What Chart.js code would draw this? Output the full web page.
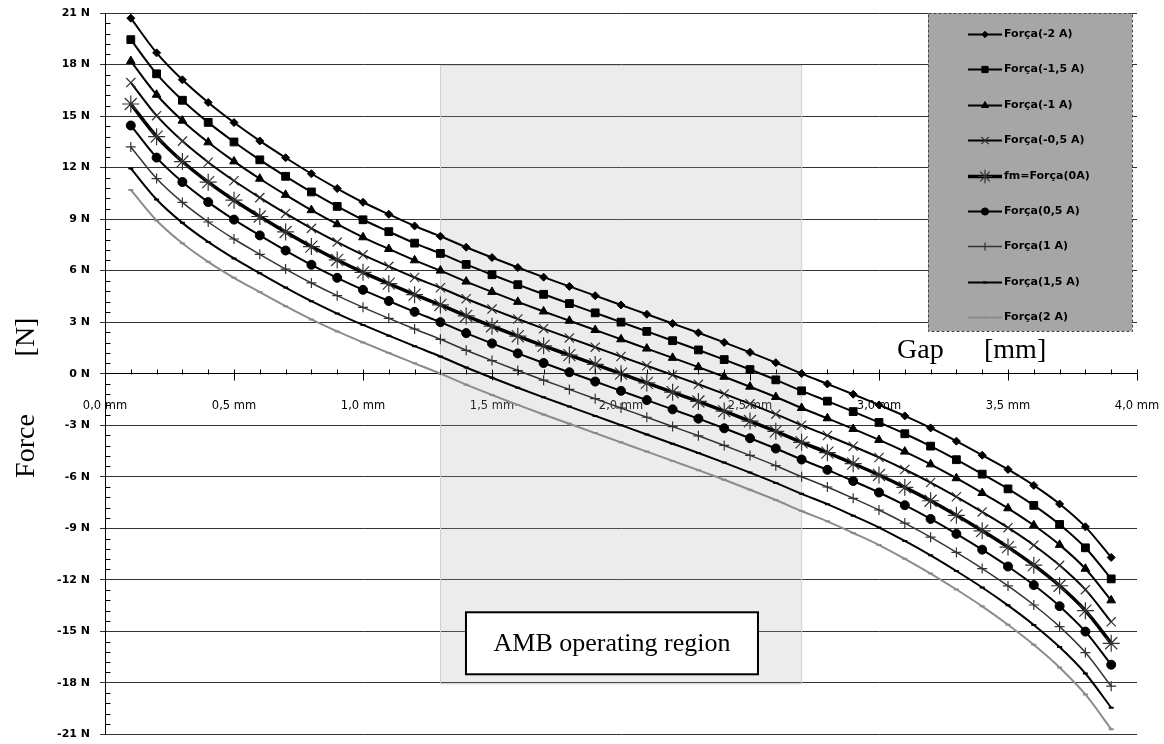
<!DOCTYPE html>
<html>
<head>
<meta charset="utf-8">
<title>Force vs gap</title>
<script src="https://cdn.jsdelivr.net/npm/chart.js@4.4.1/dist/chart.umd.min.js"></script>
<style>
  html, body { margin: 0; padding: 0; background: #fff; }
  #wrap { width: 1164px; height: 744px; }
</style>
</head>
<body>
<div id="wrap"><canvas id="forceChart" width="1164" height="744"></canvas></div>
<script>
// gap positions of the samples (mm)
const gapMm = [0.1, 0.2, 0.3, 0.4, 0.5, 0.6, 0.7, 0.8, 0.9, 1.0,
               1.1, 1.2, 1.3, 1.4, 1.5, 1.6, 1.7, 1.8, 1.9, 2.0,
               2.1, 2.2, 2.3, 2.4, 2.5, 2.6, 2.7, 2.8, 2.9, 3.0,
               3.1, 3.2, 3.3, 3.4, 3.5, 3.6, 3.7, 3.8, 3.9];

// force (N) for each control current
const forceM2A = [20.7, 18.68, 17.11, 15.79, 14.62, 13.55, 12.57, 11.64, 10.78, 9.98,
                  9.28, 8.6, 8.0, 7.36, 6.76, 6.18, 5.62, 5.08, 4.54, 4.0,
                  3.46, 2.92, 2.38, 1.82, 1.24, 0.64, 0.0, -0.6, -1.2, -1.82,
                  -2.46, -3.16, -3.93, -4.75, -5.58, -6.51, -7.59, -8.92, -10.7];
const forceM15A = [19.45, 17.46, 15.92, 14.63, 13.49, 12.45, 11.49, 10.58, 9.74, 8.96,
                   8.27, 7.6, 7.0, 6.36, 5.76, 5.18, 4.62, 4.08, 3.54, 3.0,
                   2.46, 1.92, 1.38, 0.82, 0.24, -0.36, -1.0, -1.6, -2.21, -2.84,
                   -3.5, -4.22, -5.01, -5.85, -6.71, -7.67, -8.78, -10.14, -11.95];
const forceM1A = [18.2, 16.24, 14.73, 13.47, 12.36, 11.35, 10.41, 9.52, 8.7, 7.94,
                  7.26, 6.6, 6.0, 5.36, 4.76, 4.18, 3.62, 3.08, 2.54, 2.0,
                  1.46, 0.92, 0.38, -0.18, -0.76, -1.36, -2.0, -2.6, -3.22, -3.86,
                  -4.54, -5.28, -6.09, -6.95, -7.84, -8.83, -9.97, -11.36, -13.2];
const forceM05A = [16.95, 15.02, 13.54, 12.31, 11.23, 10.25, 9.33, 8.46, 7.66, 6.92,
                   6.25, 5.6, 5.0, 4.36, 3.76, 3.18, 2.62, 2.08, 1.54, 1.0,
                   0.46, -0.08, -0.62, -1.18, -1.76, -2.36, -3.0, -3.6, -4.23, -4.88,
                   -5.58, -6.34, -7.17, -8.05, -8.97, -9.99, -11.16, -12.58, -14.45];
const force0A = [15.7, 13.8, 12.35, 11.15, 10.1, 9.15, 8.25, 7.4, 6.62, 5.9,
                 5.24, 4.6, 4.0, 3.36, 2.76, 2.18, 1.62, 1.08, 0.54, 0.0,
                 -0.54, -1.08, -1.62, -2.18, -2.76, -3.36, -4.0, -4.6, -5.24, -5.9,
                 -6.62, -7.4, -8.25, -9.15, -10.1, -11.15, -12.35, -13.8, -15.7];
const forceP05A = [14.45, 12.58, 11.16, 9.99, 8.97, 8.05, 7.17, 6.34, 5.58, 4.88,
                   4.23, 3.6, 3.0, 2.36, 1.76, 1.18, 0.62, 0.08, -0.46, -1.0,
                   -1.54, -2.08, -2.62, -3.18, -3.76, -4.36, -5.0, -5.6, -6.25, -6.92,
                   -7.66, -8.46, -9.33, -10.25, -11.23, -12.31, -13.54, -15.02, -16.95];
const forceP1A = [13.2, 11.36, 9.97, 8.83, 7.84, 6.95, 6.09, 5.28, 4.54, 3.86,
                  3.22, 2.6, 2.0, 1.36, 0.76, 0.18, -0.38, -0.92, -1.46, -2.0,
                  -2.54, -3.08, -3.62, -4.18, -4.76, -5.36, -6.0, -6.6, -7.26, -7.94,
                  -8.7, -9.52, -10.41, -11.35, -12.36, -13.47, -14.73, -16.24, -18.2];
const forceP15A = [11.95, 10.14, 8.78, 7.67, 6.71, 5.85, 5.01, 4.22, 3.5, 2.84,
                   2.21, 1.6, 1.0, 0.36, -0.24, -0.82, -1.38, -1.92, -2.46, -3.0,
                   -3.54, -4.08, -4.62, -5.18, -5.76, -6.36, -7.0, -7.6, -8.27, -8.96,
                   -9.74, -10.58, -11.49, -12.45, -13.49, -14.63, -15.92, -17.46, -19.45];
const forceP2A = [10.7, 8.92, 7.59, 6.51, 5.58, 4.75, 3.93, 3.16, 2.46, 1.82,
                  1.2, 0.6, 0.0, -0.64, -1.24, -1.82, -2.38, -2.92, -3.46, -4.0,
                  -4.54, -5.08, -5.62, -6.18, -6.76, -7.36, -8.0, -8.6, -9.28, -9.98,
                  -10.78, -11.64, -12.57, -13.55, -14.62, -15.79, -17.11, -18.68, -20.7];

const seriesLabels = ['Força(-2 A)', 'Força(-1,5 A)', 'Força(-1 A)', 'Força(-0,5 A)', 'fm=Força(0A)',
                      'Força(0,5 A)', 'Força(1 A)', 'Força(1,5 A)', 'Força(2 A)'];

// AMB operating region (gap in mm, force in N)
const operatingGap = [1.3, 2.7];
const operatingForce = [-18, 18];

function toPoints(ys) {
    return gapMm.map((g, i) => ({ x: g, y: ys[i] }));
}

// one style per curve, same order as seriesLabels
const styles = [
    { color: '#000', width: 2,   point: 'rectRot',  r: 4,   pColor: '#000', pWidth: 1 },
    { color: '#000', width: 2,   point: 'rect',     r: 5.5, pColor: '#000', pWidth: 1 },
    { color: '#000', width: 2,   point: 'triangle', r: 5,   pColor: '#000', pWidth: 1 },
    { color: '#000', width: 2,   point: 'crossRot', r: 6.5, pColor: '#333', pWidth: 1.2 },
    { color: '#000', width: 3.5, point: 'star',     r: 8.5, pColor: '#333', pWidth: 1.2 },
    { color: '#000', width: 2,   point: 'circle',   r: 4.5, pColor: '#000', pWidth: 1 },
    { color: '#333', width: 1.5, point: 'cross',    r: 5,   pColor: '#333', pWidth: 1.2 },
    { color: '#000', width: 2,   point: 'line',     r: 2.5, pColor: '#000', pWidth: 2 },
    { color: '#8c8c8c', width: 2, point: 'line',    r: 2.5, pColor: '#8c8c8c', pWidth: 2 }
];
const seriesValues = [forceM2A, forceM15A, forceM1A, forceM05A, force0A, forceP05A, forceP1A, forceP15A, forceP2A];

const datasets = seriesValues.map((vals, i) => ({
    label: seriesLabels[i],
    data: toPoints(vals),
    borderColor: styles[i].color,
    borderWidth: styles[i].width,
    backgroundColor: styles[i].pColor,
    pointStyle: styles[i].point,
    pointRadius: styles[i].r,
    pointBackgroundColor: styles[i].pColor,
    pointBorderColor: styles[i].pColor,
    pointBorderWidth: styles[i].pWidth,
    cubicInterpolationMode: 'monotone',
    fill: false
}));

const decorPlugin = {
    id: 'decor',
    beforeDatasetsDraw(chart) {
        // shaded operating region
        const { ctx, scales: { x, y } } = chart;
        const l = x.getPixelForValue(operatingGap[0]);
        const r = x.getPixelForValue(operatingGap[1]);
        const t = y.getPixelForValue(operatingForce[1]);
        const b = y.getPixelForValue(operatingForce[0]);
        ctx.save();
        ctx.fillStyle = 'rgba(170,170,170,0.22)';
        ctx.fillRect(l, t, r - l, b - t);
        ctx.strokeStyle = '#cfcfcf';
        ctx.lineWidth = 1;
        ctx.strokeRect(Math.round(l) + 0.5, Math.round(t) + 0.5, r - l, b - t);
        ctx.restore();
    },
    afterDatasetsDraw(chart) {
        const { ctx, scales: { x, y } } = chart;
        const y0 = Math.round(y.getPixelForValue(0)) + 0.5;
        const x0 = Math.round(x.getPixelForValue(0)) + 0.5;
        ctx.save();
        ctx.strokeStyle = '#000';
        ctx.lineWidth = 1;
        ctx.beginPath();
        // x ticks: minor every 0.1 mm, major every 0.5 mm
        for (let k = 1; k <= 40; k++) {
            const px = Math.round(x.getPixelForValue(k / 10)) + 0.5;
            if (k % 5 === 0) {
                ctx.moveTo(px, y0 - 5); ctx.lineTo(px, y0 + 6);
            } else {
                ctx.moveTo(px, y0 - 5); ctx.lineTo(px, y0);
            }
        }
        // y minor ticks every 0.6 N
        for (let k = 0; k <= 70; k++) {
            if (k % 5 === 0) continue;
            const py = Math.round(y.getPixelForValue(-21 + 0.6 * k)) + 0.5;
            ctx.moveTo(x0, py); ctx.lineTo(x0 + 5, py);
        }
        ctx.stroke();

        // "AMB operating region" label box
        const cx = x.getPixelForValue(1.965);
        const cy = y.getPixelForValue(-15.7);
        const bw = 292, bh = 62;
        ctx.fillStyle = '#fff';
        ctx.fillRect(cx - bw / 2, cy - bh / 2, bw, bh);
        ctx.lineWidth = 2;
        ctx.strokeRect(cx - bw / 2, cy - bh / 2, bw, bh);
        ctx.fillStyle = '#000';
        ctx.font = '26px "Liberation Serif", "Times New Roman", serif';
        ctx.textAlign = 'center';
        ctx.textBaseline = 'middle';
        ctx.fillText('AMB operating region', cx, cy + 1);
        ctx.restore();
    },
    afterDraw(chart) {
        const ctx = chart.ctx;
        ctx.save();
        // legend box
        const lx = 928, ly = 13, lw = 204, lh = 318;
        ctx.fillStyle = '#a6a6a6';
        ctx.fillRect(lx, ly, lw, lh);
        ctx.setLineDash([3, 2]);
        ctx.strokeStyle = '#444';
        ctx.lineWidth = 1;
        ctx.strokeRect(lx + 0.5, ly + 0.5, lw, lh);
        ctx.setLineDash([]);
        ctx.font = 'bold 11px "DejaVu Sans", sans-serif';
        ctx.textAlign = 'left';
        ctx.textBaseline = 'middle';
        chart.data.datasets.forEach((ds, i) => {
            const ry = Math.round(34 + i * 35.4) + 0.5;
            ctx.strokeStyle = ds.borderColor;
            ctx.lineWidth = ds.borderWidth;
            ctx.beginPath();
            ctx.moveTo(968, ry); ctx.lineTo(1002, ry);
            ctx.stroke();
            ctx.fillStyle = ds.pointBackgroundColor;
            ctx.strokeStyle = ds.pointBorderColor;
            ctx.lineWidth = ds.pointBorderWidth;
            Chart.helpers.drawPoint(ctx, {
                pointStyle: ds.pointStyle, rotation: 0,
                radius: ds.pointRadius * 0.8, borderWidth: ds.pointBorderWidth
            }, 985, ry);
            ctx.fillStyle = '#000';
            ctx.fillText(ds.label, 1004, ry);
        });

        // axis titles
        ctx.fillStyle = '#000';
        ctx.font = '28px "Liberation Serif", "Times New Roman", serif';
        ctx.textAlign = 'left';
        ctx.textBaseline = 'alphabetic';
        ctx.fillText('Gap', 897, 358);
        ctx.fillText('[mm]', 984, 358);

        ctx.translate(34, 0);
        ctx.rotate(-Math.PI / 2);
        ctx.textAlign = 'center';
        ctx.fillText('Force', -446, 0);
        ctx.fillText('[N]', -337, 0);
        ctx.restore();
    }
};

// keep the plot area fixed: no extra room for overhanging tick labels
function noLabelPadding(scale) {
    scale.paddingLeft = 0;
    scale.paddingRight = 0;
    scale.paddingTop = 0;
    scale.paddingBottom = 0;
}

const ctx = document.getElementById('forceChart').getContext('2d');
const forceChart = new Chart(ctx, {
    type: 'line',
    data: { datasets: datasets },
    options: {
        responsive: false,
        animation: false,
        devicePixelRatio: 1,
        layout: { padding: { top: 13, right: 27, bottom: 9, left: 0 } },
        plugins: {
            legend: { display: false },
            tooltip: { enabled: false }
        },
        scales: {
            x: {
                type: 'linear',
                min: 0,
                max: 4,
                position: { y: 0 },
                grid: { display: false, drawTicks: false },
                border: { display: true, color: '#000', width: 1 },
                ticks: {
                    stepSize: 0.5,
                    padding: 25,
                    autoSkip: false,
                    maxRotation: 0,
                    color: '#000',
                    font: { family: 'DejaVu Sans', size: 11.5 },
                    callback: v => v.toFixed(1).replace('.', ',') + ' mm'
                },
                afterFit: noLabelPadding
            },
            y: {
                type: 'linear',
                min: -21,
                max: 21,
                grid: { color: '#333', lineWidth: 1, tickLength: 5, drawTicks: true },
                border: { display: true, color: '#000', width: 1 },
                ticks: {
                    stepSize: 3,
                    padding: 10,
                    color: '#000',
                    font: { family: 'DejaVu Sans', size: 11, weight: 'bold' },
                    callback: v => v + ' N'
                },
                afterFit: scale => { scale.width = 105; noLabelPadding(scale); }
            }
        }
    },
    plugins: [decorPlugin]
});
</script>
</body>
</html>
